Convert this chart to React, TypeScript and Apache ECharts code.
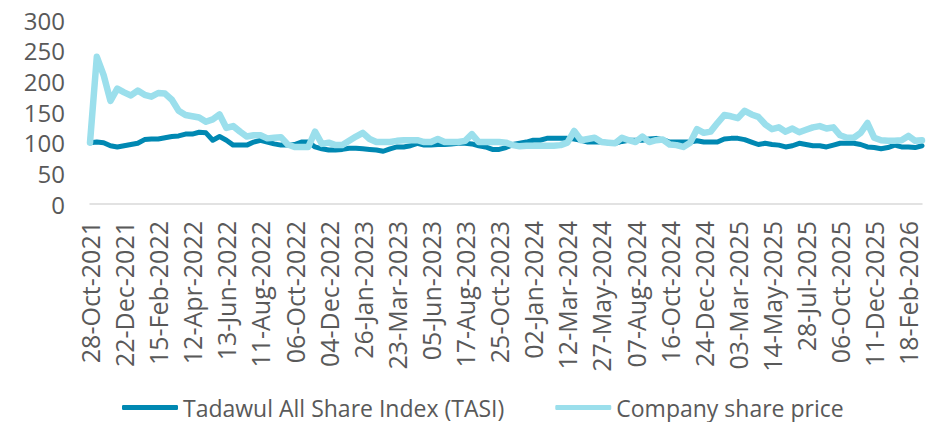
import React, { useEffect, useRef } from "react";
import * as echarts from "echarts";

const dates: string[] = [
  "28-Oct-2021", "08-Nov-2021", "18-Nov-2021", "30-Nov-2021", "12-Dec-2021",
  "22-Dec-2021", "02-Jan-2022", "12-Jan-2022", "24-Jan-2022", "03-Feb-2022",
  "15-Feb-2022", "27-Feb-2022", "09-Mar-2022", "21-Mar-2022", "31-Mar-2022",
  "12-Apr-2022", "24-Apr-2022", "10-May-2022", "22-May-2022", "01-Jun-2022",
  "13-Jun-2022", "23-Jun-2022", "05-Jul-2022", "19-Jul-2022", "31-Jul-2022",
  "11-Aug-2022", "23-Aug-2022", "04-Sep-2022", "14-Sep-2022", "26-Sep-2022",
  "06-Oct-2022", "18-Oct-2022", "30-Oct-2022", "09-Nov-2022", "21-Nov-2022",
  "04-Dec-2022", "14-Dec-2022", "26-Dec-2022", "05-Jan-2023", "17-Jan-2023",
  "26-Jan-2023", "07-Feb-2023", "19-Feb-2023", "01-Mar-2023", "13-Mar-2023",
  "23-Mar-2023", "05-Apr-2023", "17-Apr-2023", "07-May-2023", "22-May-2023",
  "05-Jun-2023", "15-Jun-2023", "09-Jul-2023", "23-Jul-2023", "06-Aug-2023",
  "17-Aug-2023", "29-Aug-2023", "10-Sep-2023", "24-Sep-2023", "12-Oct-2023",
  "25-Oct-2023", "06-Nov-2023", "16-Nov-2023", "28-Nov-2023", "19-Dec-2023",
  "02-Jan-2024", "14-Jan-2024", "24-Jan-2024", "05-Feb-2024", "27-Feb-2024",
  "12-Mar-2024", "24-Mar-2024", "04-Apr-2024", "25-Apr-2024", "09-May-2024",
  "27-May-2024", "06-Jun-2024", "25-Jun-2024", "09-Jul-2024", "24-Jul-2024",
  "07-Aug-2024", "19-Aug-2024", "29-Aug-2024", "10-Sep-2024", "25-Sep-2024",
  "16-Oct-2024", "28-Oct-2024", "07-Nov-2024", "19-Nov-2024", "03-Dec-2024",
  "24-Dec-2024", "05-Jan-2025", "19-Jan-2025", "30-Jan-2025", "13-Feb-2025",
  "03-Mar-2025", "13-Mar-2025", "25-Mar-2025", "14-Apr-2025", "29-Apr-2025",
  "14-May-2025", "26-May-2025", "15-Jun-2025", "29-Jun-2025", "13-Jul-2025",
  "28-Jul-2025", "07-Aug-2025", "19-Aug-2025", "02-Sep-2025", "18-Sep-2025",
  "06-Oct-2025", "16-Oct-2025", "28-Oct-2025", "11-Nov-2025", "25-Nov-2025",
  "11-Dec-2025", "23-Dec-2025", "06-Jan-2026", "20-Jan-2026", "03-Feb-2026",
  "18-Feb-2026", "02-Mar-2026", "12-Mar-2026",
];

const tasi: number[] = [
  100, 101, 100, 95, 93, 95, 97, 99, 105, 106,
  106, 108, 110, 111, 114, 114, 117, 116, 104, 110,
  104, 96, 96, 96, 101, 104, 101, 98, 96, 96,
  97, 101, 101, 93, 90, 88, 88, 89, 91, 91,
  90, 89, 88, 86, 90, 93, 93, 95, 99, 96,
  96, 97, 97, 98, 99, 99, 98, 95, 93, 89,
  89, 92, 97, 99, 101, 104, 104, 107, 107, 107,
  107, 106, 104, 101, 101, 101, 100, 99, 102, 104,
  104, 104, 106, 107, 105, 101, 101, 101, 101, 103,
  101, 101, 101, 106, 107, 107, 105, 101, 97, 99,
  97, 96, 93, 95, 99, 97, 95, 95, 93, 96,
  99, 99, 99, 97, 93, 92, 90, 92, 96, 93,
  93, 92, 95,
];

const company: number[] = [
  100, 240, 210, 168, 188, 182, 177, 185, 178, 175,
  181, 180, 170, 152, 145, 143, 141, 134, 138, 146,
  124, 127, 118, 110, 112, 112, 107, 108, 109, 97,
  93, 93, 93, 118, 98, 100, 96, 96, 103, 110,
  116, 106, 101, 101, 101, 103, 104, 104, 104, 101,
  101, 106, 101, 101, 101, 103, 114, 101, 101, 101,
  101, 100, 96, 94, 95, 95, 95, 95, 95, 96,
  100, 119, 104, 106, 108, 101, 100, 99, 108, 104,
  101, 110, 101, 104, 105, 97, 96, 93, 100, 122,
  116, 118, 132, 145, 143, 140, 152, 146, 142, 130,
  122, 125, 118, 123, 117, 121, 125, 127, 123, 125,
  112, 108, 108, 116, 132, 108, 104, 103, 103, 104,
  111, 103, 104,
];

const seriesNames: string[] = ["Tadawul All Share Index (TASI)", "Company share price"];
const yTicks = { min: 0, max: 300, interval: 50 };

const FONT = "'Open Sans', 'Noto Sans', sans-serif";

export default function App() {
  const ref = useRef<HTMLDivElement>(null);
  useEffect(() => {
    if (!ref.current) return;
    const chart = echarts.init(ref.current, undefined, { renderer: "svg" });
    chart.setOption({
      animation: false,
      textStyle: { fontFamily: FONT },
      grid: { left: 90, right: 22, top: 20, bottom: 218, containLabel: false },
      legend: {
        left: 122,
        top: 396,
        padding: 0,
        itemGap: 51,
        itemWidth: 56,
        itemHeight: 5,
        icon: "roundRect",
        textStyle: { fontFamily: FONT, fontSize: 23, color: "#595959" },
        data: seriesNames,
      },
      xAxis: {
        type: "category",
        data: dates,
        boundaryGap: false,
        axisLine: { show: true, lineStyle: { color: "#D9D9D9", width: 1.5 } },
        axisTick: { show: false },
        axisLabel: {
          interval: 4,
          rotate: 90,
          margin: 17,
          fontFamily: FONT,
          fontSize: 25,
          color: "#595959",
        },
        splitLine: { show: false },
      },
      yAxis: {
        type: "value",
        min: yTicks.min,
        max: yTicks.max,
        interval: yTicks.interval,
        axisLine: { show: false },
        axisTick: { show: false },
        splitLine: { show: false },
        axisLabel: { margin: 25, fontFamily: FONT, fontSize: 24, color: "#595959" },
      },
      series: [
        {
          name: seriesNames[0],
          type: "line",
          data: tasi,
          symbol: "none",
          itemStyle: { color: "#0088B2" },
          lineStyle: { color: "#0088B2", width: 5, cap: "round", join: "round" },
        },
        {
          name: seriesNames[1],
          type: "line",
          data: company,
          symbol: "none",
          itemStyle: { color: "#9BDFEC" },
          lineStyle: { color: "#9BDFEC", width: 6.5, cap: "round", join: "round" },
        },
      ],
    });
    return () => chart.dispose();
  }, []);
  return (
    <div
      ref={ref}
      style={{ position: "absolute", left: 0, top: 0, width: 944, height: 422 }}
    />
  );
}
